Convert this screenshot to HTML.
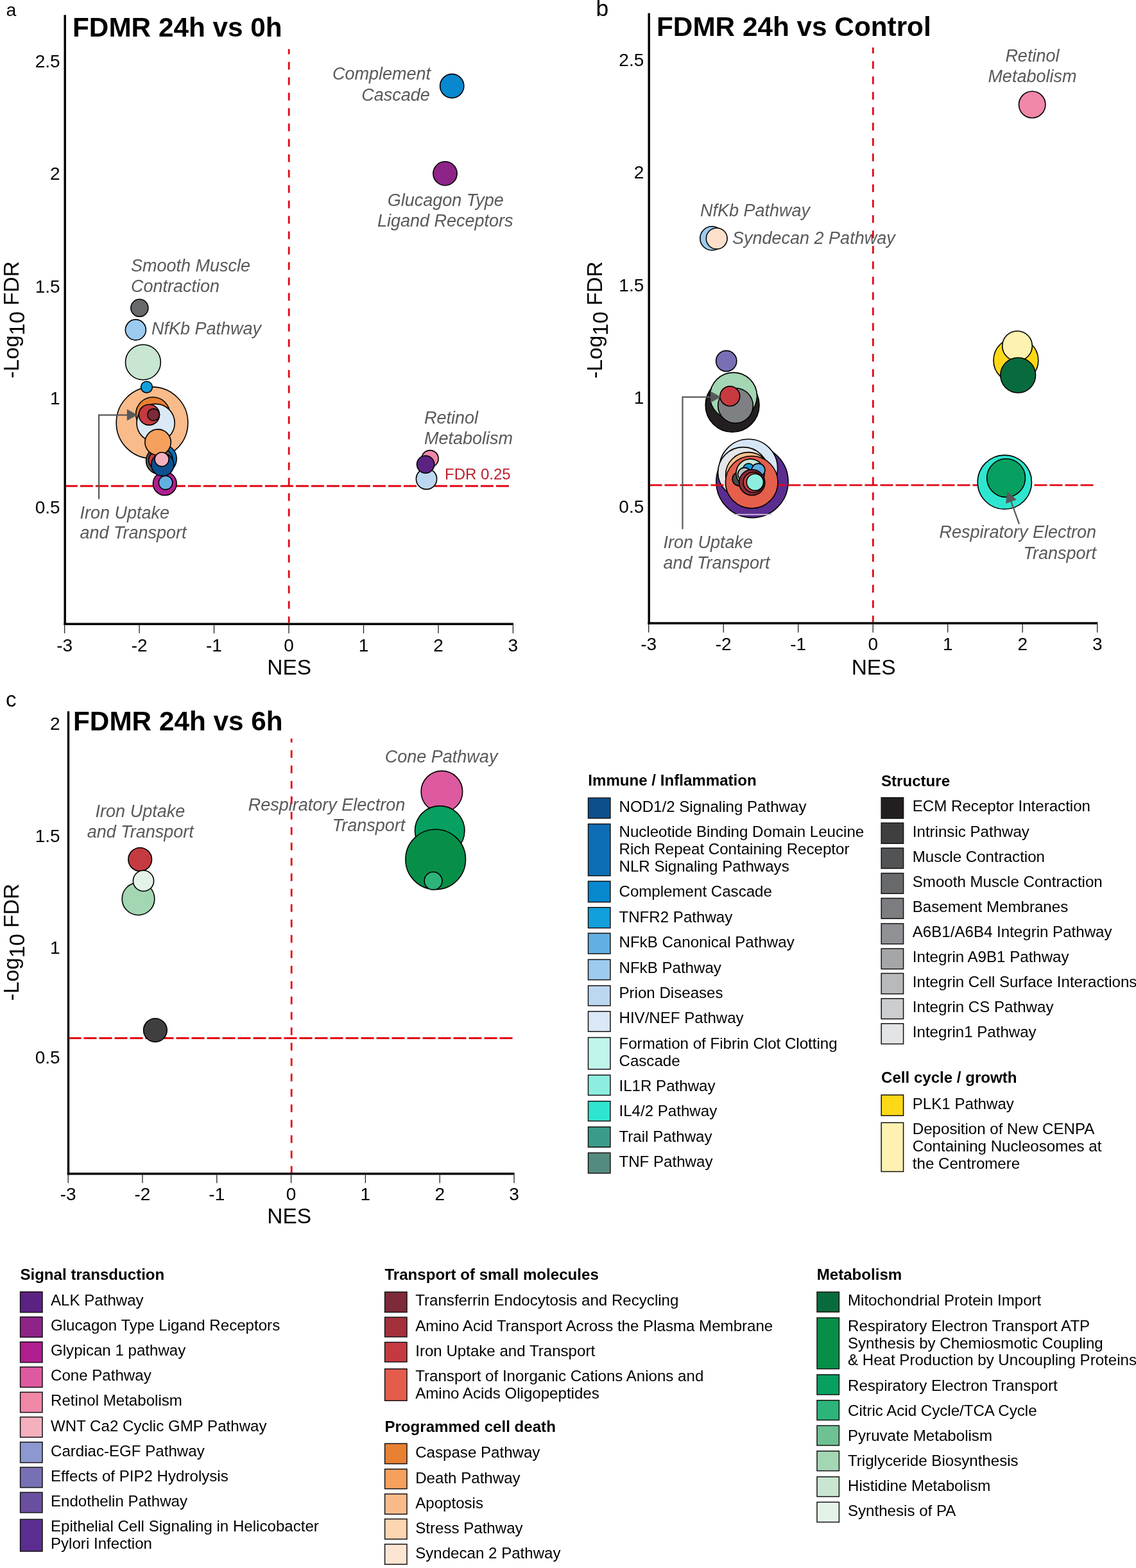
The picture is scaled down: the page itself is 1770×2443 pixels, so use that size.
<!DOCTYPE html><html><head><meta charset="utf-8"><title>GSEA bubble plots</title>
<style>html,body{margin:0;padding:0;background:#fff;}svg{display:block;}text{font-family:'Liberation Sans', Arial, sans-serif;}</style></head><body>
<svg width="1770" height="2443" viewBox="0 0 1770 2443">
<rect width="1770" height="2443" fill="#fff"/>
<text x="9.5" y="25.2" font-size="28.5" text-anchor="start" font-weight="normal" font-style="normal" fill="#000" >a</text>
<text x="928.5" y="25.0" font-size="35.5" text-anchor="start" font-weight="normal" font-style="normal" fill="#000" >b</text>
<text x="9.0" y="1101.0" font-size="33" text-anchor="start" font-weight="normal" font-style="normal" fill="#000" >c</text>
<line x1="101.2" y1="23.2" x2="101.2" y2="974.0" stroke="#000" stroke-width="3.4" />
<line x1="99.5" y1="972.3" x2="800.0" y2="972.3" stroke="#000" stroke-width="3.6" />
<line x1="100.6" y1="974.1" x2="100.6" y2="986.8" stroke="#231f20" stroke-width="1.3" />
<text x="100.6" y="1014.5" font-size="28" text-anchor="middle" font-weight="normal" font-style="normal" fill="#000" >-3</text>
<line x1="217.1" y1="974.1" x2="217.1" y2="986.8" stroke="#231f20" stroke-width="1.3" />
<text x="217.1" y="1014.5" font-size="28" text-anchor="middle" font-weight="normal" font-style="normal" fill="#000" >-2</text>
<line x1="333.5" y1="974.1" x2="333.5" y2="986.8" stroke="#231f20" stroke-width="1.3" />
<text x="333.5" y="1014.5" font-size="28" text-anchor="middle" font-weight="normal" font-style="normal" fill="#000" >-1</text>
<line x1="450.0" y1="974.1" x2="450.0" y2="986.8" stroke="#231f20" stroke-width="1.3" />
<text x="450.0" y="1014.5" font-size="28" text-anchor="middle" font-weight="normal" font-style="normal" fill="#000" >0</text>
<line x1="566.5" y1="974.1" x2="566.5" y2="986.8" stroke="#231f20" stroke-width="1.3" />
<text x="566.5" y="1014.5" font-size="28" text-anchor="middle" font-weight="normal" font-style="normal" fill="#000" >1</text>
<line x1="683.0" y1="974.1" x2="683.0" y2="986.8" stroke="#231f20" stroke-width="1.3" />
<text x="683.0" y="1014.5" font-size="28" text-anchor="middle" font-weight="normal" font-style="normal" fill="#000" >2</text>
<line x1="799.4" y1="974.1" x2="799.4" y2="986.8" stroke="#231f20" stroke-width="1.3" />
<text x="799.4" y="1014.5" font-size="28" text-anchor="middle" font-weight="normal" font-style="normal" fill="#000" >3</text>
<text x="93.6" y="104.6" font-size="28" text-anchor="end" font-weight="normal" font-style="normal" fill="#000" >2.5</text>
<text x="93.6" y="280.3" font-size="28" text-anchor="end" font-weight="normal" font-style="normal" fill="#000" >2</text>
<text x="93.6" y="455.6" font-size="28" text-anchor="end" font-weight="normal" font-style="normal" fill="#000" >1.5</text>
<text x="93.6" y="630.3" font-size="28" text-anchor="end" font-weight="normal" font-style="normal" fill="#000" >1</text>
<text x="93.6" y="800.4" font-size="28" text-anchor="end" font-weight="normal" font-style="normal" fill="#000" >0.5</text>
<text x="450.7" y="1050.6" font-size="33.5" text-anchor="middle" font-weight="normal" font-style="normal" fill="#000" >NES</text>
<text transform="translate(28.9,498.3) rotate(-90)" font-size="33.5" text-anchor="middle" fill="#000">-Log<tspan dy="8.6">10</tspan><tspan dy="-8.6"> FDR</tspan></text>
<text x="113.0" y="57.4" font-size="42.3" text-anchor="start" font-weight="bold" font-style="normal" fill="#000" >FDMR 24h vs 0h</text>
<line x1="102.9" y1="757.3" x2="795.0" y2="757.3" stroke="#e30613" stroke-width="2.9" stroke-dasharray="20 4" stroke-dashoffset="2.0"/>
<circle cx="704.2" cy="134.0" r="18.6" fill="#0788cf" stroke="#000" stroke-width="1.6"/>
<circle cx="693.5" cy="270.4" r="18.6" fill="#8e2388" stroke="#000" stroke-width="1.6"/>
<circle cx="217.4" cy="479.8" r="13.5" fill="#68696b" stroke="#000" stroke-width="1.6"/>
<circle cx="211.4" cy="513.9" r="16.0" fill="#9ccbef" stroke="#000" stroke-width="1.6"/>
<circle cx="222.9" cy="564.4" r="27.4" fill="#c8e6d1" stroke="#000" stroke-width="1.6"/>
<circle cx="237.0" cy="658.7" r="55.8" fill="#f9bb8a" stroke="#000" stroke-width="1.6"/>
<circle cx="228.5" cy="603.1" r="8.9" fill="#129fdb" stroke="#000" stroke-width="1.6"/>
<circle cx="238.2" cy="645.2" r="26.5" fill="#e88032" stroke="#000" stroke-width="1.6"/>
<circle cx="242.6" cy="659.0" r="29.6" fill="#dbe8f6" stroke="#000" stroke-width="1.6"/>
<circle cx="232.4" cy="646.3" r="16.1" fill="#c53a40" stroke="#000" stroke-width="1.6"/>
<circle cx="239.2" cy="646.2" r="9.3" fill="#7d2a3b" stroke="#000" stroke-width="1.6"/>
<circle cx="256.8" cy="753.4" r="18.3" fill="#b01e8f" stroke="#000" stroke-width="1.6"/>
<circle cx="258.0" cy="752.1" r="10.8" fill="#62afe2" stroke="#000" stroke-width="1.6"/>
<circle cx="252.5" cy="714.8" r="22.7" fill="#0f6db5" stroke="#000" stroke-width="1.6"/>
<circle cx="248.5" cy="718.0" r="20.9" fill="#58595b" stroke="#000" stroke-width="1.6"/>
<circle cx="246.0" cy="717.0" r="14.4" fill="#c53a40" stroke="#000" stroke-width="1.6"/>
<circle cx="246.1" cy="689.1" r="20.2" fill="#f5a05d" stroke="#000" stroke-width="1.6"/>
<circle cx="253.3" cy="724.0" r="17.6" fill="#0d508f" stroke="#000" stroke-width="1.6"/>
<circle cx="252.1" cy="715.7" r="11.0" fill="#f5b0be" stroke="#000" stroke-width="1.6"/>
<circle cx="670.0" cy="714.7" r="13.1" fill="#f088a8" stroke="#000" stroke-width="1.6"/>
<circle cx="664.5" cy="746.3" r="16.1" fill="#bcd8f1" stroke="#000" stroke-width="1.6"/>
<circle cx="663.1" cy="723.6" r="13.6" fill="#5c2283" stroke="#000" stroke-width="1.6"/>
<polyline points="154.1,777.5 154.1,646.6 198.8,646.6" fill="none" stroke="#58595b" stroke-width="2.2"/>
<polygon points="197.8,637.6 214.3,646.6 197.8,655.6" fill="#58595b"/>
<text x="671.0" y="124.4" font-size="27.0" text-anchor="end" font-weight="normal" font-style="italic" fill="#58595b" >Complement</text>
<text x="669.8" y="156.5" font-size="27.0" text-anchor="end" font-weight="normal" font-style="italic" fill="#58595b" >Cascade</text>
<text x="694.3" y="320.5" font-size="27.0" text-anchor="middle" font-weight="normal" font-style="italic" fill="#58595b" >Glucagon Type</text>
<text x="693.8" y="352.7" font-size="27.0" text-anchor="middle" font-weight="normal" font-style="italic" fill="#58595b" >Ligand Receptors</text>
<text x="204.0" y="422.9" font-size="27.0" text-anchor="start" font-weight="normal" font-style="italic" fill="#58595b" >Smooth Muscle</text>
<text x="204.0" y="455.0" font-size="27.0" text-anchor="start" font-weight="normal" font-style="italic" fill="#58595b" >Contraction</text>
<text x="236.0" y="520.6" font-size="27.0" text-anchor="start" font-weight="normal" font-style="italic" fill="#58595b" >NfKb Pathway</text>
<text x="661.0" y="659.9" font-size="27.0" text-anchor="start" font-weight="normal" font-style="italic" fill="#58595b" >Retinol</text>
<text x="661.0" y="692.3" font-size="27.0" text-anchor="start" font-weight="normal" font-style="italic" fill="#58595b" >Metabolism</text>
<text x="124.5" y="807.6" font-size="27.0" text-anchor="start" font-weight="normal" font-style="italic" fill="#58595b" >Iron Uptake</text>
<text x="124.5" y="838.5" font-size="27.0" text-anchor="start" font-weight="normal" font-style="italic" fill="#58595b" >and Transport</text>
<text x="693.0" y="746.5" font-size="24" text-anchor="start" font-weight="normal" font-style="normal" fill="#be1e2d" >FDR 0.25</text>
<line x1="1011.2" y1="20.6" x2="1011.2" y2="972.7" stroke="#000" stroke-width="3.4" />
<line x1="1009.5" y1="971.0" x2="1710.3" y2="971.0" stroke="#000" stroke-width="3.6" />
<line x1="1010.7" y1="972.8" x2="1010.7" y2="985.5" stroke="#231f20" stroke-width="1.3" />
<text x="1010.7" y="1013.2" font-size="28" text-anchor="middle" font-weight="normal" font-style="normal" fill="#000" >-3</text>
<line x1="1127.2" y1="972.8" x2="1127.2" y2="985.5" stroke="#231f20" stroke-width="1.3" />
<text x="1127.2" y="1013.2" font-size="28" text-anchor="middle" font-weight="normal" font-style="normal" fill="#000" >-2</text>
<line x1="1243.7" y1="972.8" x2="1243.7" y2="985.5" stroke="#231f20" stroke-width="1.3" />
<text x="1243.7" y="1013.2" font-size="28" text-anchor="middle" font-weight="normal" font-style="normal" fill="#000" >-1</text>
<line x1="1360.2" y1="972.8" x2="1360.2" y2="985.5" stroke="#231f20" stroke-width="1.3" />
<text x="1360.2" y="1013.2" font-size="28" text-anchor="middle" font-weight="normal" font-style="normal" fill="#000" >0</text>
<line x1="1476.7" y1="972.8" x2="1476.7" y2="985.5" stroke="#231f20" stroke-width="1.3" />
<text x="1476.7" y="1013.2" font-size="28" text-anchor="middle" font-weight="normal" font-style="normal" fill="#000" >1</text>
<line x1="1593.2" y1="972.8" x2="1593.2" y2="985.5" stroke="#231f20" stroke-width="1.3" />
<text x="1593.2" y="1013.2" font-size="28" text-anchor="middle" font-weight="normal" font-style="normal" fill="#000" >2</text>
<line x1="1709.7" y1="972.8" x2="1709.7" y2="985.5" stroke="#231f20" stroke-width="1.3" />
<text x="1709.7" y="1013.2" font-size="28" text-anchor="middle" font-weight="normal" font-style="normal" fill="#000" >3</text>
<text x="1003.3" y="102.6" font-size="28" text-anchor="end" font-weight="normal" font-style="normal" fill="#000" >2.5</text>
<text x="1003.3" y="278.3" font-size="28" text-anchor="end" font-weight="normal" font-style="normal" fill="#000" >2</text>
<text x="1003.3" y="453.6" font-size="28" text-anchor="end" font-weight="normal" font-style="normal" fill="#000" >1.5</text>
<text x="1003.3" y="629.1" font-size="28" text-anchor="end" font-weight="normal" font-style="normal" fill="#000" >1</text>
<text x="1003.3" y="799.3" font-size="28" text-anchor="end" font-weight="normal" font-style="normal" fill="#000" >0.5</text>
<text x="1361.1" y="1050.6" font-size="33.5" text-anchor="middle" font-weight="normal" font-style="normal" fill="#000" >NES</text>
<text transform="translate(938.0,498.5) rotate(-90)" font-size="33.5" text-anchor="middle" fill="#000">-Log<tspan dy="8.6">10</tspan><tspan dy="-8.6"> FDR</tspan></text>
<text x="1023.0" y="56.3" font-size="42.3" text-anchor="start" font-weight="bold" font-style="normal" fill="#000" >FDMR 24h vs Control</text>
<circle cx="1608.2" cy="163.0" r="20.7" fill="#f088a8" stroke="#000" stroke-width="1.6"/>
<circle cx="1109.4" cy="371.4" r="18.6" fill="#9ccbef" stroke="#000" stroke-width="1.6"/>
<circle cx="1116.7" cy="371.6" r="16.4" fill="#fde0cb" stroke="#000" stroke-width="1.6"/>
<circle cx="1131.7" cy="562.5" r="16.1" fill="#7870b5" stroke="#000" stroke-width="1.6"/>
<circle cx="1141.1" cy="631.3" r="41.9" fill="#231f20" stroke="#000" stroke-width="1.6"/>
<circle cx="1142.8" cy="617.1" r="36.7" fill="#a3d6b3" stroke="#000" stroke-width="1.6"/>
<circle cx="1146.0" cy="632.0" r="27.3" fill="#7f8083" stroke="#000" stroke-width="1.6"/>
<circle cx="1137.3" cy="617.3" r="15.4" fill="#c93a40" stroke="#000" stroke-width="1.6"/>
<circle cx="1172.0" cy="750.5" r="56.1" fill="#5b2d90" stroke="#000" stroke-width="1.6"/>
<circle cx="1166.2" cy="729.7" r="45.4" fill="#d6e6f4" stroke="#000" stroke-width="1.6"/>
<circle cx="1158.0" cy="736.0" r="39.4" fill="#e5e6e7" stroke="#000" stroke-width="1.6"/>
<circle cx="1166.0" cy="740.0" r="35.4" fill="#fdc08c" stroke="#000" stroke-width="1.6"/>
<line x1="1012.9" y1="755.9" x2="1705.0" y2="755.9" stroke="#e30613" stroke-width="2.9" stroke-dasharray="20 4" stroke-dashoffset="1.4"/>
<circle cx="1171.2" cy="751.3" r="40.8" fill="#e55f4c" stroke="#000" stroke-width="1.6"/>
<circle cx="1152.0" cy="746.2" r="10.9" fill="#4a4a4a" stroke="#000" stroke-width="1.6"/>
<circle cx="1169.1" cy="737.2" r="22.1" fill="#c8e6d4" stroke="#000" stroke-width="1.6"/>
<circle cx="1166.4" cy="731.0" r="8.9" fill="#1a9ad6" stroke="#000" stroke-width="1.6"/>
<circle cx="1181.5" cy="732.5" r="10.4" fill="#5dade2" stroke="#000" stroke-width="1.6"/>
<circle cx="1160.0" cy="739.0" r="10.4" fill="#bcbec0" stroke="#000" stroke-width="1.6"/>
<circle cx="1171.7" cy="751.7" r="20.1" fill="#8a2b3b" stroke="#000" stroke-width="1.6"/>
<circle cx="1174.0" cy="751.5" r="15.9" fill="#c94040" stroke="#000" stroke-width="1.6"/>
<circle cx="1176.4" cy="751.3" r="13.1" fill="#8deee0" stroke="#000" stroke-width="1.6"/>
<line x1="1142.5" y1="801.6" x2="1203.0" y2="801.6" stroke="#d9cbe6" stroke-width="1.6" />
<circle cx="1582.9" cy="561.4" r="34.9" fill="#fdd817" stroke="#000" stroke-width="1.6"/>
<circle cx="1585.0" cy="539.0" r="23.3" fill="#fef2b0" stroke="#000" stroke-width="1.6"/>
<circle cx="1586.2" cy="584.6" r="27.4" fill="#086b3d" stroke="#000" stroke-width="1.6"/>
<circle cx="1565.3" cy="751.2" r="42.1" fill="#2ee6cf" stroke="#000" stroke-width="1.6"/>
<circle cx="1567.6" cy="744.7" r="29.9" fill="#07a060" stroke="#000" stroke-width="1.6"/>
<polyline points="1063.5,824.4 1063.5,618.6 1107.8,618.6" fill="none" stroke="#58595b" stroke-width="2.2"/>
<polygon points="1106.8,609.6 1123.3,618.6 1106.8,627.6" fill="#58595b"/>
<line x1="1588.0" y1="816.3" x2="1575.1" y2="780.7" stroke="#58595b" stroke-width="2.2"/>
<polygon points="1583.9,778.6 1569.6,765.7 1567.0,784.8" fill="#58595b"/>
<text x="1608.4" y="95.9" font-size="27.0" text-anchor="middle" font-weight="normal" font-style="italic" fill="#58595b" >Retinol</text>
<text x="1608.4" y="127.7" font-size="27.0" text-anchor="middle" font-weight="normal" font-style="italic" fill="#58595b" >Metabolism</text>
<text x="1091.0" y="337.4" font-size="27.0" text-anchor="start" font-weight="normal" font-style="italic" fill="#58595b" >NfKb Pathway</text>
<text x="1141.0" y="379.9" font-size="27.0" text-anchor="start" font-weight="normal" font-style="italic" fill="#58595b" >Syndecan 2 Pathway</text>
<text x="1033.5" y="854.0" font-size="27.0" text-anchor="start" font-weight="normal" font-style="italic" fill="#58595b" >Iron Uptake</text>
<text x="1033.5" y="886.3" font-size="27.0" text-anchor="start" font-weight="normal" font-style="italic" fill="#58595b" >and Transport</text>
<text x="1708.0" y="838.0" font-size="27.0" text-anchor="end" font-weight="normal" font-style="italic" fill="#58595b" >Respiratory Electron</text>
<text x="1708.0" y="870.5" font-size="27.0" text-anchor="end" font-weight="normal" font-style="italic" fill="#58595b" >Transport</text>
<line x1="106.5" y1="1108.3" x2="106.5" y2="1830.5" stroke="#000" stroke-width="3.4" />
<line x1="104.8" y1="1828.8" x2="801.6" y2="1828.8" stroke="#000" stroke-width="3.6" />
<line x1="106.2" y1="1830.6" x2="106.2" y2="1843.3" stroke="#231f20" stroke-width="1.3" />
<text x="106.2" y="1870.2" font-size="28" text-anchor="middle" font-weight="normal" font-style="normal" fill="#000" >-3</text>
<line x1="222.0" y1="1830.6" x2="222.0" y2="1843.3" stroke="#231f20" stroke-width="1.3" />
<text x="222.0" y="1870.2" font-size="28" text-anchor="middle" font-weight="normal" font-style="normal" fill="#000" >-2</text>
<line x1="337.8" y1="1830.6" x2="337.8" y2="1843.3" stroke="#231f20" stroke-width="1.3" />
<text x="337.8" y="1870.2" font-size="28" text-anchor="middle" font-weight="normal" font-style="normal" fill="#000" >-1</text>
<line x1="453.6" y1="1830.6" x2="453.6" y2="1843.3" stroke="#231f20" stroke-width="1.3" />
<text x="453.6" y="1870.2" font-size="28" text-anchor="middle" font-weight="normal" font-style="normal" fill="#000" >0</text>
<line x1="569.4" y1="1830.6" x2="569.4" y2="1843.3" stroke="#231f20" stroke-width="1.3" />
<text x="569.4" y="1870.2" font-size="28" text-anchor="middle" font-weight="normal" font-style="normal" fill="#000" >1</text>
<line x1="685.2" y1="1830.6" x2="685.2" y2="1843.3" stroke="#231f20" stroke-width="1.3" />
<text x="685.2" y="1870.2" font-size="28" text-anchor="middle" font-weight="normal" font-style="normal" fill="#000" >2</text>
<line x1="801.0" y1="1830.6" x2="801.0" y2="1843.3" stroke="#231f20" stroke-width="1.3" />
<text x="801.0" y="1870.2" font-size="28" text-anchor="middle" font-weight="normal" font-style="normal" fill="#000" >3</text>
<text x="93.6" y="1136.6" font-size="28" text-anchor="end" font-weight="normal" font-style="normal" fill="#000" >2</text>
<text x="93.6" y="1312.2" font-size="28" text-anchor="end" font-weight="normal" font-style="normal" fill="#000" >1.5</text>
<text x="93.6" y="1485.6" font-size="28" text-anchor="end" font-weight="normal" font-style="normal" fill="#000" >1</text>
<text x="93.6" y="1656.6" font-size="28" text-anchor="end" font-weight="normal" font-style="normal" fill="#000" >0.5</text>
<text x="450.7" y="1906.2" font-size="33.5" text-anchor="middle" font-weight="normal" font-style="normal" fill="#000" >NES</text>
<text transform="translate(28.9,1468.0) rotate(-90)" font-size="33.5" text-anchor="middle" fill="#000">-Log<tspan dy="8.6">10</tspan><tspan dy="-8.6"> FDR</tspan></text>
<text x="114.0" y="1137.5" font-size="42.3" text-anchor="start" font-weight="bold" font-style="normal" fill="#000" >FDMR 24h vs 6h</text>
<line x1="108.2" y1="1617.5" x2="800.0" y2="1617.5" stroke="#e30613" stroke-width="2.9" stroke-dasharray="20 4" stroke-dashoffset="1.7"/>
<circle cx="218.2" cy="1339.0" r="18.3" fill="#c53a40" stroke="#000" stroke-width="1.6"/>
<circle cx="215.5" cy="1400.4" r="25.3" fill="#a3d6b3" stroke="#000" stroke-width="1.6"/>
<circle cx="223.5" cy="1372.4" r="16.1" fill="#e4f3e8" stroke="#000" stroke-width="1.6"/>
<circle cx="241.9" cy="1605.1" r="18.3" fill="#3f3f40" stroke="#000" stroke-width="1.6"/>
<circle cx="688.4" cy="1233.4" r="32.3" fill="#dd5aa0" stroke="#000" stroke-width="1.6"/>
<circle cx="685.2" cy="1294.3" r="38.7" fill="#07a060" stroke="#000" stroke-width="1.6"/>
<circle cx="678.7" cy="1339.0" r="46.8" fill="#078f48" stroke="#000" stroke-width="1.6"/>
<circle cx="675.0" cy="1372.4" r="13.9" fill="#2cb47a" stroke="#000" stroke-width="1.6"/>
<text x="687.6" y="1188.2" font-size="27.0" text-anchor="middle" font-weight="normal" font-style="italic" fill="#58595b" >Cone Pathway</text>
<text x="631.3" y="1263.0" font-size="27.0" text-anchor="end" font-weight="normal" font-style="italic" fill="#58595b" >Respiratory Electron</text>
<text x="631.3" y="1295.4" font-size="27.0" text-anchor="end" font-weight="normal" font-style="italic" fill="#58595b" >Transport</text>
<text x="218.4" y="1272.8" font-size="27.0" text-anchor="middle" font-weight="normal" font-style="italic" fill="#58595b" >Iron Uptake</text>
<text x="218.7" y="1305.0" font-size="27.0" text-anchor="middle" font-weight="normal" font-style="italic" fill="#58595b" >and Transport</text>
<line x1="450.2" y1="76.4" x2="450.2" y2="970.5" stroke="#e30613" stroke-width="2.8" stroke-dasharray="12 12" stroke-dashoffset="3.9"/>
<line x1="1360.3" y1="73.9" x2="1360.3" y2="969.2" stroke="#e30613" stroke-width="2.8" stroke-dasharray="12 12" stroke-dashoffset="2.6"/>
<line x1="454.2" y1="1150.8" x2="454.2" y2="1827.0" stroke="#e30613" stroke-width="2.8" stroke-dasharray="12 12" stroke-dashoffset="6.0"/>
<text x="916.3" y="1224.2" font-size="24.1" text-anchor="start" font-weight="bold" font-style="normal" fill="#000" >Immune / Inflammation</text>
<rect x="916.5" y="1243.2" width="34.4" height="31.7" fill="#0d4f8b" stroke="#141213" stroke-width="1.5"/>
<text x="964.5" y="1264.7" font-size="24.1" text-anchor="start" font-weight="normal" font-style="normal" fill="#000" >NOD1/2 Signaling Pathway</text>
<rect x="916.5" y="1283.8" width="34.4" height="80.7" fill="#0f6db5" stroke="#141213" stroke-width="1.5"/>
<text x="964.5" y="1304.1" font-size="24.1" text-anchor="start" font-weight="normal" font-style="normal" fill="#000" >Nucleotide Binding Domain Leucine</text>
<text x="964.5" y="1331.0" font-size="24.1" text-anchor="start" font-weight="normal" font-style="normal" fill="#000" >Rich Repeat Containing Receptor</text>
<text x="964.5" y="1357.9" font-size="24.1" text-anchor="start" font-weight="normal" font-style="normal" fill="#000" >NLR Signaling Pathways</text>
<rect x="916.5" y="1373.0" width="34.4" height="32.5" fill="#0788cf" stroke="#141213" stroke-width="1.5"/>
<text x="964.5" y="1397.3" font-size="24.1" text-anchor="start" font-weight="normal" font-style="normal" fill="#000" >Complement Cascade</text>
<rect x="916.5" y="1413.8" width="34.4" height="32.0" fill="#129fdb" stroke="#141213" stroke-width="1.5"/>
<text x="964.5" y="1436.7" font-size="24.1" text-anchor="start" font-weight="normal" font-style="normal" fill="#000" >TNFR2 Pathway</text>
<rect x="916.5" y="1454.0" width="34.4" height="31.9" fill="#62afe2" stroke="#141213" stroke-width="1.5"/>
<text x="964.5" y="1476.1" font-size="24.1" text-anchor="start" font-weight="normal" font-style="normal" fill="#000" >NFkB Canonical Pathway</text>
<rect x="916.5" y="1495.0" width="34.4" height="31.6" fill="#9ccbef" stroke="#141213" stroke-width="1.5"/>
<text x="964.5" y="1515.5" font-size="24.1" text-anchor="start" font-weight="normal" font-style="normal" fill="#000" >NFkB Pathway</text>
<rect x="916.5" y="1535.7" width="34.4" height="31.2" fill="#bcd8f1" stroke="#141213" stroke-width="1.5"/>
<text x="964.5" y="1554.9" font-size="24.1" text-anchor="start" font-weight="normal" font-style="normal" fill="#000" >Prion Diseases</text>
<rect x="916.5" y="1575.8" width="34.4" height="31.4" fill="#dbe8f6" stroke="#141213" stroke-width="1.5"/>
<text x="964.5" y="1594.3" font-size="24.1" text-anchor="start" font-weight="normal" font-style="normal" fill="#000" >HIV/NEF Pathway</text>
<rect x="916.5" y="1616.5" width="34.4" height="49.4" fill="#c0f5ec" stroke="#141213" stroke-width="1.5"/>
<text x="964.5" y="1633.7" font-size="24.1" text-anchor="start" font-weight="normal" font-style="normal" fill="#000" >Formation of Fibrin Clot Clotting</text>
<text x="964.5" y="1660.6" font-size="24.1" text-anchor="start" font-weight="normal" font-style="normal" fill="#000" >Cascade</text>
<rect x="916.5" y="1675.0" width="34.4" height="31.4" fill="#8deee0" stroke="#141213" stroke-width="1.5"/>
<text x="964.5" y="1700.0" font-size="24.1" text-anchor="start" font-weight="normal" font-style="normal" fill="#000" >IL1R Pathway</text>
<rect x="916.5" y="1715.7" width="34.4" height="30.9" fill="#2ee6cf" stroke="#141213" stroke-width="1.5"/>
<text x="964.5" y="1739.4" font-size="24.1" text-anchor="start" font-weight="normal" font-style="normal" fill="#000" >IL4/2 Pathway</text>
<rect x="916.5" y="1755.8" width="34.4" height="31.5" fill="#3a9b8b" stroke="#141213" stroke-width="1.5"/>
<text x="964.5" y="1778.8" font-size="24.1" text-anchor="start" font-weight="normal" font-style="normal" fill="#000" >Trail Pathway</text>
<rect x="916.5" y="1796.2" width="34.4" height="31.7" fill="#538b80" stroke="#141213" stroke-width="1.5"/>
<text x="964.5" y="1818.2" font-size="24.1" text-anchor="start" font-weight="normal" font-style="normal" fill="#000" >TNF Pathway</text>
<text x="1373.0" y="1224.7" font-size="24.1" text-anchor="start" font-weight="bold" font-style="normal" fill="#000" >Structure</text>
<rect x="1373.2" y="1242.8" width="34.4" height="32.3" fill="#231f20" stroke="#141213" stroke-width="1.5"/>
<text x="1421.8" y="1264.4" font-size="24.1" text-anchor="start" font-weight="normal" font-style="normal" fill="#000" >ECM Receptor Interaction</text>
<rect x="1373.2" y="1282.2" width="34.4" height="32.0" fill="#3f3f40" stroke="#141213" stroke-width="1.5"/>
<text x="1421.8" y="1303.5" font-size="24.1" text-anchor="start" font-weight="normal" font-style="normal" fill="#000" >Intrinsic Pathway</text>
<rect x="1373.2" y="1321.3" width="34.4" height="31.7" fill="#525355" stroke="#141213" stroke-width="1.5"/>
<text x="1421.8" y="1342.6" font-size="24.1" text-anchor="start" font-weight="normal" font-style="normal" fill="#000" >Muscle Contraction</text>
<rect x="1373.2" y="1360.5" width="34.4" height="31.7" fill="#68696b" stroke="#141213" stroke-width="1.5"/>
<text x="1421.8" y="1381.7" font-size="24.1" text-anchor="start" font-weight="normal" font-style="normal" fill="#000" >Smooth Muscle Contraction</text>
<rect x="1373.2" y="1399.5" width="34.4" height="31.7" fill="#7c7d80" stroke="#141213" stroke-width="1.5"/>
<text x="1421.8" y="1420.8" font-size="24.1" text-anchor="start" font-weight="normal" font-style="normal" fill="#000" >Basement Membranes</text>
<rect x="1373.2" y="1439.0" width="34.4" height="31.7" fill="#909194" stroke="#141213" stroke-width="1.5"/>
<text x="1421.8" y="1459.9" font-size="24.1" text-anchor="start" font-weight="normal" font-style="normal" fill="#000" >A6B1/A6B4 Integrin Pathway</text>
<rect x="1373.2" y="1478.0" width="34.4" height="31.7" fill="#a5a6a8" stroke="#141213" stroke-width="1.5"/>
<text x="1421.8" y="1499.0" font-size="24.1" text-anchor="start" font-weight="normal" font-style="normal" fill="#000" >Integrin A9B1 Pathway</text>
<rect x="1373.2" y="1516.5" width="34.4" height="32.0" fill="#b8b9bb" stroke="#141213" stroke-width="1.5"/>
<text x="1421.8" y="1538.1" font-size="24.1" text-anchor="start" font-weight="normal" font-style="normal" fill="#000" >Integrin Cell Surface Interactions</text>
<rect x="1373.2" y="1555.8" width="34.4" height="31.7" fill="#cccdce" stroke="#141213" stroke-width="1.5"/>
<text x="1421.8" y="1577.2" font-size="24.1" text-anchor="start" font-weight="normal" font-style="normal" fill="#000" >Integrin CS Pathway</text>
<rect x="1373.2" y="1594.8" width="34.4" height="31.7" fill="#e3e4e5" stroke="#141213" stroke-width="1.5"/>
<text x="1421.8" y="1616.3" font-size="24.1" text-anchor="start" font-weight="normal" font-style="normal" fill="#000" >Integrin1 Pathway</text>
<text x="1373.0" y="1687.4" font-size="24.1" text-anchor="start" font-weight="bold" font-style="normal" fill="#000" >Cell cycle / growth</text>
<rect x="1373.2" y="1706.0" width="34.4" height="32.2" fill="#fdd817" stroke="#141213" stroke-width="1.5"/>
<text x="1421.8" y="1727.8" font-size="24.1" text-anchor="start" font-weight="normal" font-style="normal" fill="#000" >PLK1 Pathway</text>
<rect x="1373.2" y="1749.2" width="34.4" height="76.2" fill="#fef2b0" stroke="#141213" stroke-width="1.5"/>
<text x="1421.8" y="1766.8" font-size="24.1" text-anchor="start" font-weight="normal" font-style="normal" fill="#000" >Deposition of New CENPA</text>
<text x="1421.8" y="1793.7" font-size="24.1" text-anchor="start" font-weight="normal" font-style="normal" fill="#000" >Containing Nucleosomes at</text>
<text x="1421.8" y="1820.6" font-size="24.1" text-anchor="start" font-weight="normal" font-style="normal" fill="#000" >the Centromere</text>
<text x="31.4" y="1994.1" font-size="24.1" text-anchor="start" font-weight="bold" font-style="normal" fill="#000" >Signal transduction</text>
<rect x="31.6" y="2012.8" width="34.4" height="31.9" fill="#5c2283" stroke="#141213" stroke-width="1.5"/>
<text x="79.0" y="2034.0" font-size="24.1" text-anchor="start" font-weight="normal" font-style="normal" fill="#000" >ALK Pathway</text>
<rect x="31.6" y="2051.9" width="34.4" height="31.5" fill="#8e2388" stroke="#141213" stroke-width="1.5"/>
<text x="79.0" y="2073.1" font-size="24.1" text-anchor="start" font-weight="normal" font-style="normal" fill="#000" >Glucagon Type Ligand Receptors</text>
<rect x="31.6" y="2090.8" width="34.4" height="31.9" fill="#b01e8f" stroke="#141213" stroke-width="1.5"/>
<text x="79.0" y="2112.2" font-size="24.1" text-anchor="start" font-weight="normal" font-style="normal" fill="#000" >Glypican 1 pathway</text>
<rect x="31.6" y="2129.8" width="34.4" height="31.6" fill="#dd5aa0" stroke="#141213" stroke-width="1.5"/>
<text x="79.0" y="2151.3" font-size="24.1" text-anchor="start" font-weight="normal" font-style="normal" fill="#000" >Cone Pathway</text>
<rect x="31.6" y="2169.1" width="34.4" height="31.5" fill="#f088a8" stroke="#141213" stroke-width="1.5"/>
<text x="79.0" y="2190.4" font-size="24.1" text-anchor="start" font-weight="normal" font-style="normal" fill="#000" >Retinol Metabolism</text>
<rect x="31.6" y="2207.8" width="34.4" height="31.5" fill="#f5b0be" stroke="#141213" stroke-width="1.5"/>
<text x="79.0" y="2229.5" font-size="24.1" text-anchor="start" font-weight="normal" font-style="normal" fill="#000" >WNT Ca2 Cyclic GMP Pathway</text>
<rect x="31.6" y="2246.9" width="34.4" height="31.9" fill="#8c98cf" stroke="#141213" stroke-width="1.5"/>
<text x="79.0" y="2268.6" font-size="24.1" text-anchor="start" font-weight="normal" font-style="normal" fill="#000" >Cardiac-EGF Pathway</text>
<rect x="31.6" y="2286.1" width="34.4" height="31.5" fill="#7870b5" stroke="#141213" stroke-width="1.5"/>
<text x="79.0" y="2307.7" font-size="24.1" text-anchor="start" font-weight="normal" font-style="normal" fill="#000" >Effects of PIP2 Hydrolysis</text>
<rect x="31.6" y="2325.2" width="34.4" height="31.5" fill="#6a4ea0" stroke="#141213" stroke-width="1.5"/>
<text x="79.0" y="2346.8" font-size="24.1" text-anchor="start" font-weight="normal" font-style="normal" fill="#000" >Endothelin Pathway</text>
<rect x="31.6" y="2367.2" width="34.4" height="49.8" fill="#5b2d90" stroke="#141213" stroke-width="1.5"/>
<text x="79.0" y="2385.9" font-size="24.1" text-anchor="start" font-weight="normal" font-style="normal" fill="#000" >Epithelial Cell Signaling in Helicobacter</text>
<text x="79.0" y="2412.8" font-size="24.1" text-anchor="start" font-weight="normal" font-style="normal" fill="#000" >Pylori Infection</text>
<text x="599.4" y="1994.2" font-size="24.1" text-anchor="start" font-weight="bold" font-style="normal" fill="#000" >Transport of small molecules</text>
<rect x="599.6" y="2013.0" width="34.4" height="31.5" fill="#7d2a3b" stroke="#141213" stroke-width="1.5"/>
<text x="647.2" y="2034.3" font-size="24.1" text-anchor="start" font-weight="normal" font-style="normal" fill="#000" >Transferrin Endocytosis and Recycling</text>
<rect x="599.6" y="2052.3" width="34.4" height="30.6" fill="#a3303b" stroke="#141213" stroke-width="1.5"/>
<text x="647.2" y="2073.5" font-size="24.1" text-anchor="start" font-weight="normal" font-style="normal" fill="#000" >Amino Acid Transport Across the Plasma Membrane</text>
<rect x="599.6" y="2091.3" width="34.4" height="30.6" fill="#c53a40" stroke="#141213" stroke-width="1.5"/>
<text x="647.2" y="2112.7" font-size="24.1" text-anchor="start" font-weight="normal" font-style="normal" fill="#000" >Iron Uptake and Transport</text>
<rect x="599.6" y="2132.8" width="34.4" height="49.5" fill="#e45c4c" stroke="#141213" stroke-width="1.5"/>
<text x="647.2" y="2151.9" font-size="24.1" text-anchor="start" font-weight="normal" font-style="normal" fill="#000" >Transport of Inorganic Cations Anions and</text>
<text x="647.2" y="2178.8" font-size="24.1" text-anchor="start" font-weight="normal" font-style="normal" fill="#000" >Amino Acids Oligopeptides</text>
<text x="599.4" y="2231.2" font-size="24.1" text-anchor="start" font-weight="bold" font-style="normal" fill="#000" >Programmed cell death</text>
<rect x="599.6" y="2249.2" width="34.4" height="31.4" fill="#e88032" stroke="#141213" stroke-width="1.5"/>
<text x="647.2" y="2271.4" font-size="24.1" text-anchor="start" font-weight="normal" font-style="normal" fill="#000" >Caspase Pathway</text>
<rect x="599.6" y="2288.9" width="34.4" height="30.7" fill="#f5a05d" stroke="#141213" stroke-width="1.5"/>
<text x="647.2" y="2310.5" font-size="24.1" text-anchor="start" font-weight="normal" font-style="normal" fill="#000" >Death Pathway</text>
<rect x="599.6" y="2327.6" width="34.4" height="31.5" fill="#f9bb8a" stroke="#141213" stroke-width="1.5"/>
<text x="647.2" y="2349.6" font-size="24.1" text-anchor="start" font-weight="normal" font-style="normal" fill="#000" >Apoptosis</text>
<rect x="599.6" y="2366.6" width="34.4" height="31.4" fill="#fdd5b1" stroke="#141213" stroke-width="1.5"/>
<text x="647.2" y="2388.7" font-size="24.1" text-anchor="start" font-weight="normal" font-style="normal" fill="#000" >Stress Pathway</text>
<rect x="599.6" y="2405.9" width="34.4" height="31.4" fill="#fde5d3" stroke="#141213" stroke-width="1.5"/>
<text x="647.2" y="2427.8" font-size="24.1" text-anchor="start" font-weight="normal" font-style="normal" fill="#000" >Syndecan 2 Pathway</text>
<text x="1272.7" y="1993.9" font-size="24.1" text-anchor="start" font-weight="bold" font-style="normal" fill="#000" >Metabolism</text>
<rect x="1273.0" y="2013.0" width="34.4" height="31.1" fill="#086b3d" stroke="#141213" stroke-width="1.5"/>
<text x="1321.0" y="2034.4" font-size="24.1" text-anchor="start" font-weight="normal" font-style="normal" fill="#000" >Mitochondrial Protein Import</text>
<rect x="1273.0" y="2053.2" width="34.4" height="79.5" fill="#078f48" stroke="#141213" stroke-width="1.5"/>
<text x="1321.0" y="2073.6" font-size="24.1" text-anchor="start" font-weight="normal" font-style="normal" fill="#000" >Respiratory Electron Transport ATP</text>
<text x="1321.0" y="2100.5" font-size="24.1" text-anchor="start" font-weight="normal" font-style="normal" fill="#000" >Synthesis by Chemiosmotic Coupling</text>
<text x="1321.0" y="2127.4" font-size="24.1" text-anchor="start" font-weight="normal" font-style="normal" fill="#000" >&amp; Heat Production by Uncoupling Proteins</text>
<rect x="1273.0" y="2141.8" width="34.4" height="31.1" fill="#07a060" stroke="#141213" stroke-width="1.5"/>
<text x="1321.0" y="2166.5" font-size="24.1" text-anchor="start" font-weight="normal" font-style="normal" fill="#000" >Respiratory Electron Transport</text>
<rect x="1273.0" y="2181.7" width="34.4" height="30.8" fill="#2cb47a" stroke="#141213" stroke-width="1.5"/>
<text x="1321.0" y="2205.7" font-size="24.1" text-anchor="start" font-weight="normal" font-style="normal" fill="#000" >Citric Acid Cycle/TCA Cycle</text>
<rect x="1273.0" y="2221.2" width="34.4" height="30.8" fill="#6ec192" stroke="#141213" stroke-width="1.5"/>
<text x="1321.0" y="2244.8" font-size="24.1" text-anchor="start" font-weight="normal" font-style="normal" fill="#000" >Pyruvate Metabolism</text>
<rect x="1273.0" y="2260.8" width="34.4" height="30.8" fill="#a3d6b3" stroke="#141213" stroke-width="1.5"/>
<text x="1321.0" y="2284.0" font-size="24.1" text-anchor="start" font-weight="normal" font-style="normal" fill="#000" >Triglyceride Biosynthesis</text>
<rect x="1273.0" y="2300.9" width="34.4" height="30.8" fill="#c8e6d1" stroke="#141213" stroke-width="1.5"/>
<text x="1321.0" y="2323.1" font-size="24.1" text-anchor="start" font-weight="normal" font-style="normal" fill="#000" >Histidine Metabolism</text>
<rect x="1273.0" y="2340.4" width="34.4" height="31.1" fill="#e4f3e8" stroke="#141213" stroke-width="1.5"/>
<text x="1321.0" y="2362.3" font-size="24.1" text-anchor="start" font-weight="normal" font-style="normal" fill="#000" >Synthesis of PA</text>
</svg></body></html>
